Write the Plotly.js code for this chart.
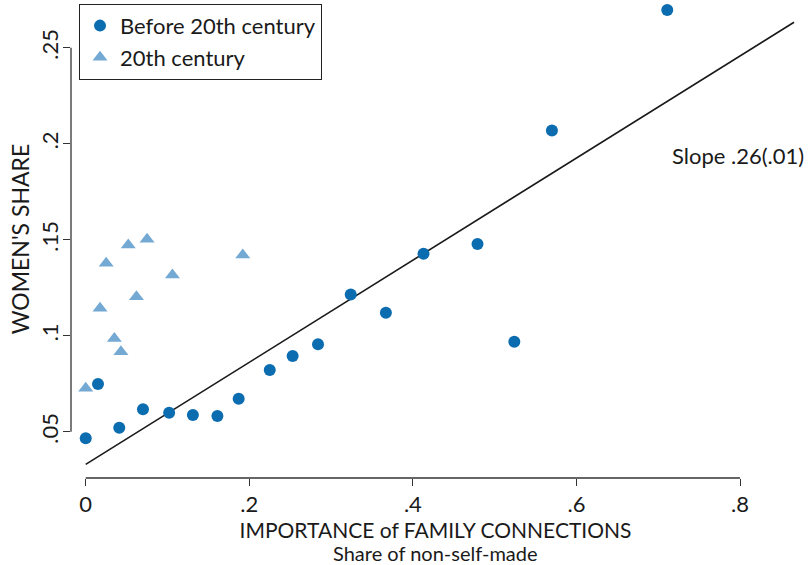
<!DOCTYPE html>
<html>
<head>
<meta charset="utf-8">
<script src="https://cdn.plot.ly/plotly-3.0.1.min.js"></script>
<style>
html,body{margin:0;padding:0;background:#fff;}
#chart{width:809px;height:565px;}
</style>
</head>
<body>
<div id="chart"></div>
<script>
// Before 20th century (circles)
const beforeX = [0.000, 0.015, 0.041, 0.070, 0.102, 0.131, 0.161, 0.187, 0.225, 0.253, 0.284, 0.324, 0.367, 0.413, 0.479, 0.524, 0.570, 0.711];
const beforeY = [0.0466, 0.0748, 0.0521, 0.0617, 0.0599, 0.0587, 0.0582, 0.0672, 0.0821, 0.0894, 0.0955, 0.1214, 0.1120, 0.1427, 0.1478, 0.0969, 0.2068, 0.2696];
// 20th century (triangles)
const c20X = [0.000, 0.0175, 0.025, 0.035, 0.043, 0.052, 0.062, 0.075, 0.106, 0.192];
const c20Y = [0.0726, 0.1143, 0.1377, 0.0986, 0.0917, 0.1472, 0.1203, 0.1502, 0.1316, 0.1420];
// Fitted line endpoints
const fitX = [0.000, 0.866];
const fitY = [0.0330, 0.2632];
const slopeLabel = "Slope .26(.01)";
const xTicks = [0, 0.2, 0.4, 0.6, 0.8];
const xTickText = ["0", ".2", ".4", ".6", ".8"];
const yTicks = [0.05, 0.1, 0.15, 0.2, 0.25];
const yTickText = [".05", ".1", ".15", ".2", ".25"];

const FONT = "Lato, 'Open Sans', sans-serif";
const INK = "#1a1a1a";
const AX = "#333333";

const traces = [
  {x: fitX, y: fitY, type: "scatter", mode: "lines",
   line: {color: "#1a1a1a", width: 1.6}, showlegend: false, hoverinfo: "skip"},
  {x: beforeX, y: beforeY, type: "scatter", mode: "markers", name: "Before 20th century",
   marker: {symbol: "circle", size: 12, color: "#0b6cb0"}},
  {x: c20X, y: c20Y, type: "scatter", mode: "markers", name: "20th century",
   marker: {symbol: "triangle-up", size: 13, color: "#74a9d4"}}
];

const layout = {
  width: 809, height: 565,
  margin: {l: 71, r: 9, t: 0, b: 87},
  paper_bgcolor: "#ffffff", plot_bgcolor: "#ffffff",
  font: {family: FONT, size: 22, color: INK},
  showlegend: true,
  legend: {x: 0.011, y: 0.992, xanchor: "left", yanchor: "top",
    bgcolor: "#ffffff", bordercolor: "#222222", borderwidth: 1,
    font: {family: FONT, size: 22, color: INK}},
  xaxis: {range: [-0.018, 0.8733], tickvals: xTicks, ticktext: xTickText,
    showgrid: false, zeroline: false, showline: false,
    ticks: "outside", ticklen: 7, tickwidth: 1.3, tickcolor: AX,
    tickfont: {family: FONT, size: 22, color: INK},
    title: {text: "IMPORTANCE of FAMILY CONNECTIONS", standoff: 0,
      font: {family: FONT, size: 21, color: INK}}},
  yaxis: {range: [0.0259, 0.2748], tickvals: yTicks, ticktext: yTickText,
    showgrid: false, zeroline: false, showline: false,
    ticks: "outside", ticklen: 7, tickwidth: 1.3, tickcolor: AX, tickangle: -90,
    ticklabelstandoff: -4,
    tickfont: {family: FONT, size: 22, color: INK},
    title: {text: "WOMEN'S SHARE", standoff: 0,
      font: {family: FONT, size: 23, color: INK}}},
  shapes: [
    {type: "line", xref: "x", yref: "paper", x0: xTicks[0], x1: xTicks[xTicks.length-1], y0: 0, y1: 0,
     line: {color: AX, width: 1.3}},
    {type: "line", xref: "paper", yref: "y", x0: 0, x1: 0, y0: yTicks[0], y1: yTicks[yTicks.length-1],
     line: {color: AX, width: 1.3}}
  ],
  annotations: [
    {xref: "x", yref: "y", x: 0.714, y: 0.194, text: slopeLabel, showarrow: false,
     xanchor: "left", yanchor: "middle", font: {family: FONT, size: 22, color: INK}},
    {xref: "paper", yref: "paper", x: 0.5, y: 0, yshift: -75, text: "Share of non-self-made",
     showarrow: false, xanchor: "center", yanchor: "middle",
     font: {family: FONT, size: 20, color: INK}}
  ]
};

Plotly.newPlot("chart", traces, layout, {displayModeBar: false, responsive: false});
</script>
</body>
</html>
